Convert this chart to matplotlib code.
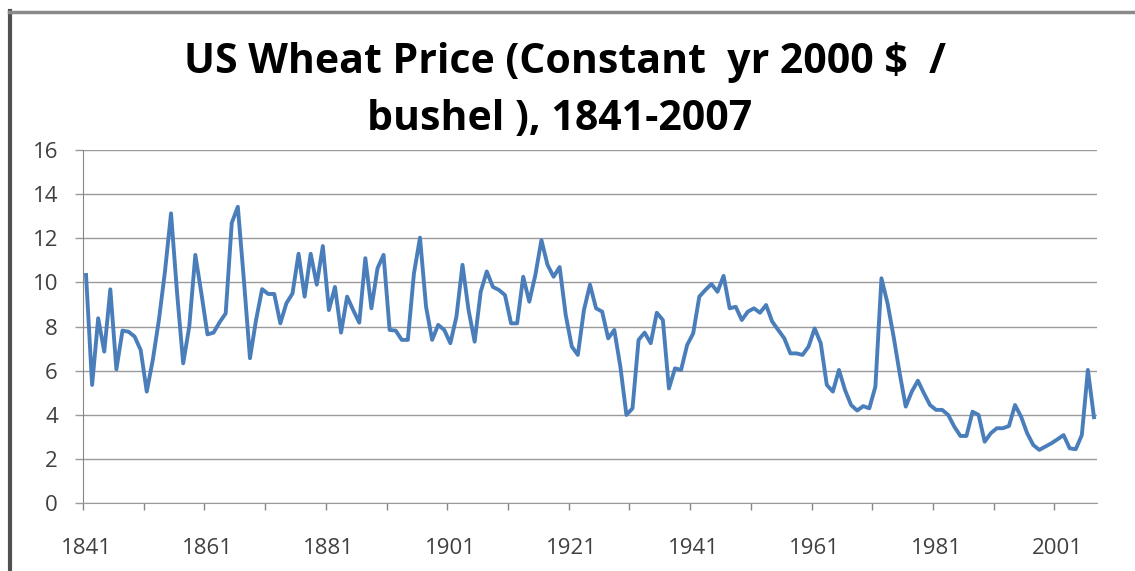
import matplotlib
matplotlib.use("Agg")
import matplotlib.pyplot as plt
from matplotlib.lines import Line2D
import numpy as np

start_year = 1841
end_year = 2007
prices = [
    10.34, 5.36, 8.38, 6.87, 9.69, 6.07, 7.82, 7.77, 7.55, 6.94,   # 1841-1850
    5.06, 6.5, 8.3, 10.5, 13.13, 9.5, 6.34, 8.0, 11.25, 9.5,       # 1851-1860
    7.65, 7.73, 8.2, 8.6, 12.7, 13.43, 10.1, 6.57, 8.3, 9.7,       # 1861-1870
    9.48, 9.48, 8.15, 9.06, 9.5, 11.3, 9.36, 11.3, 9.9, 11.65,     # 1871-1880
    8.75, 9.8, 7.73, 9.36, 8.75, 8.18, 11.1, 8.83, 10.64, 11.25,   # 1881-1890
    7.85, 7.82, 7.4, 7.4, 10.4, 12.03, 8.9, 7.4, 8.08, 7.85,       # 1891-1900
    7.25, 8.45, 10.8, 8.75, 7.32, 9.58, 10.5, 9.8, 9.66, 9.43,     # 1901-1910
    8.15, 8.15, 10.26, 9.13, 10.34, 11.92, 10.8, 10.26, 10.7, 8.53,  # 1911-1920
    7.1, 6.72, 8.75, 9.9, 8.83, 8.68, 7.47, 7.85, 6.19, 4.0,       # 1921-1930
    4.3, 7.4, 7.73, 7.25, 8.63, 8.3, 5.2, 6.11, 6.04, 7.17,        # 1931-1940
    7.7, 9.36, 9.66, 9.93, 9.58, 10.3, 8.83, 8.9, 8.3, 8.68,       # 1941-1950
    8.83, 8.63, 8.98, 8.23, 7.85, 7.47, 6.79, 6.79, 6.72, 7.1,     # 1951-1960
    7.92, 7.25, 5.36, 5.06, 6.04, 5.13, 4.45, 4.2, 4.4, 4.3,       # 1961-1970
    5.28, 10.19, 9.06, 7.55, 5.89, 4.38, 5.06, 5.55, 4.98, 4.45,   # 1971-1980
    4.23, 4.23, 4.0, 3.47, 3.05, 3.05, 4.15, 4.0, 2.79, 3.17,      # 1981-1990
    3.4, 3.4, 3.5, 4.45, 3.92, 3.17, 2.64, 2.42, 2.57, 2.72,       # 1991-2000
    2.9, 3.09, 2.49, 2.45, 3.09, 6.04, 3.9,                        # 2001-2007
]
years = np.arange(start_year, end_year + 1)
x_labels = ["1841", "1861", "1881", "1901", "1921", "1941", "1961", "1981", "2001"]
y_ticks = [0, 2, 4, 6, 8, 10, 12, 14, 16]
title_line1 = "US Wheat Price (Constant  yr 2000 $  /"
title_line2 = "bushel ), 1841-2007"

W, H = 1135, 571
fig = plt.figure(figsize=(W / 100, H / 100), dpi=100)
fig.patch.set_facecolor("white")

ax = fig.add_axes([83 / W, 1 - 503.3 / H, (1097 - 83) / W, (503.3 - 150) / H])
ax.plot(years, prices, color="#4a7ebb", lw=2.8, solid_joinstyle="round", zorder=3)

ax.set_xlim(start_year - 0.5, end_year + 0.5)
ax.set_ylim(0, 16)

label_pos = [int(s) for s in x_labels]
ax.set_xticks(label_pos)
ax.set_xticklabels(x_labels)
ax.set_xticks(np.arange(start_year - 0.5, end_year + 0.5, 10), minor=True)
ax.tick_params(axis="x", which="major", length=0, pad=25, labelsize=16,
               labelcolor="#404040")
ax.tick_params(axis="x", which="minor", length=5, width=1, color="#868686",
               direction="out")

ax.set_yticks(y_ticks)
ax.set_yticklabels([str(v) for v in y_ticks])
ax.tick_params(axis="y", length=6, width=1, color="#9a9a9a", pad=12,
               labelsize=16, labelcolor="#404040")

for lbl in ax.get_xticklabels() + ax.get_yticklabels():
    lbl.set_fontfamily("Open Sans")

ax.grid(axis="y", color="#9a9a9a", lw=1)
ax.set_axisbelow(True)
for s in ["top", "right"]:
    ax.spines[s].set_visible(False)
ax.spines["left"].set_color("#868686")
ax.spines["bottom"].set_color("#9a9a9a")

fig.text(565 / W, 1 - 72.7 / H, title_line1, ha="center", va="baseline",
         fontsize=29.5, fontweight="bold", family="Open Sans", color="black")
fig.text(560 / W, 1 - 130 / H, title_line2, ha="center", va="baseline",
         fontsize=29.5, fontweight="bold", family="Open Sans", color="black")

# chart border (left and top)
fig.add_artist(Line2D([10 / W, 10 / W], [0, 1 - 11 / H], transform=fig.transFigure,
                      color="#505050", lw=3))
fig.add_artist(Line2D([8.5 / W, 1], [1 - 11.5 / H, 1 - 11.5 / H], transform=fig.transFigure,
                      color="#8a8a8a", lw=2.5))

fig.savefig("out.png", dpi=100)
